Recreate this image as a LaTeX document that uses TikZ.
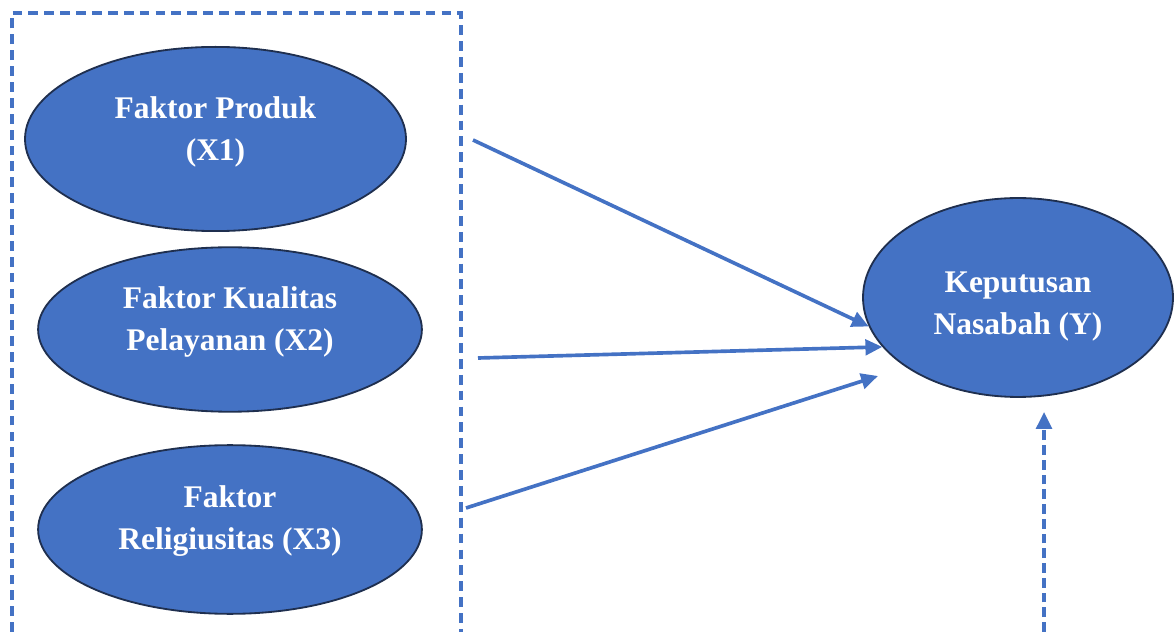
\documentclass[tikz,border=0pt]{standalone}
\usepackage{fontspec}
\setmainfont{Liberation Serif}
\usetikzlibrary{shapes.geometric}
\usetikzlibrary{arrows.meta}
\definecolor{boxblue}{HTML}{4472C4}
\definecolor{rimblue}{HTML}{1F2F4F}

\begin{document}
\begin{tikzpicture}[x=0.7113pt,y=-0.7113pt,
    var/.style={ellipse,draw=rimblue,line width=1.3pt,fill=boxblue,
      text=white,font=\fontsize{22.4}{30}\selectfont\bfseries,
      align=center,inner sep=0pt,text depth=15pt},
    link/.style={draw=boxblue,line width=2.6pt,
      -{Triangle[length=12pt,width=11pt]}},
    frame/.style={draw=boxblue,line width=2.6pt,
      dash pattern=on 7pt off 4.3pt}]
    \useasboundingbox (0,0) rectangle (1175,632);
    % dashed frame round the independent variables
    \draw[frame] (12,632) -- (12,13) -- (461,13) -- (461,632);
    \node[var,minimum width=271pt,minimum height=131pt] (x1) at (215.5,139)
      {Faktor Produk\\(X1)};
    \node[var,minimum width=273pt,minimum height=117pt] (x2) at (230,329.5)
      {Faktor Kualitas\\Pelayanan (X2)};
    \node[var,minimum width=273pt,minimum height=120pt,text depth=17pt] (x3) at (230,529.5)
      {Faktor\\Religiusitas (X3)};
    \node[var,minimum width=220.5pt,minimum height=141.5pt,text depth=4.9pt,
      text height=58pt] (y) at (1018,297.5)
      {Keputusan\\Nasabah (Y)};
    % free ends of the connectors
    \coordinate (s1) at (473,140);
    \coordinate (s2) at (478,358);
    \coordinate (s3) at (466,508);
    \coordinate (t3) at (878,376);
    \coordinate (s4) at (1044,632);
    \draw[link] (s1) -- (y.191);
    \draw[link] (s2) -- (y.200);
    \draw[link] (s3) -- (t3);
    \draw[link,dash pattern=on 7pt off 3.5pt,shorten >=10pt] (s4) -- (s4 |- y.south);
\end{tikzpicture}
\end{document}
